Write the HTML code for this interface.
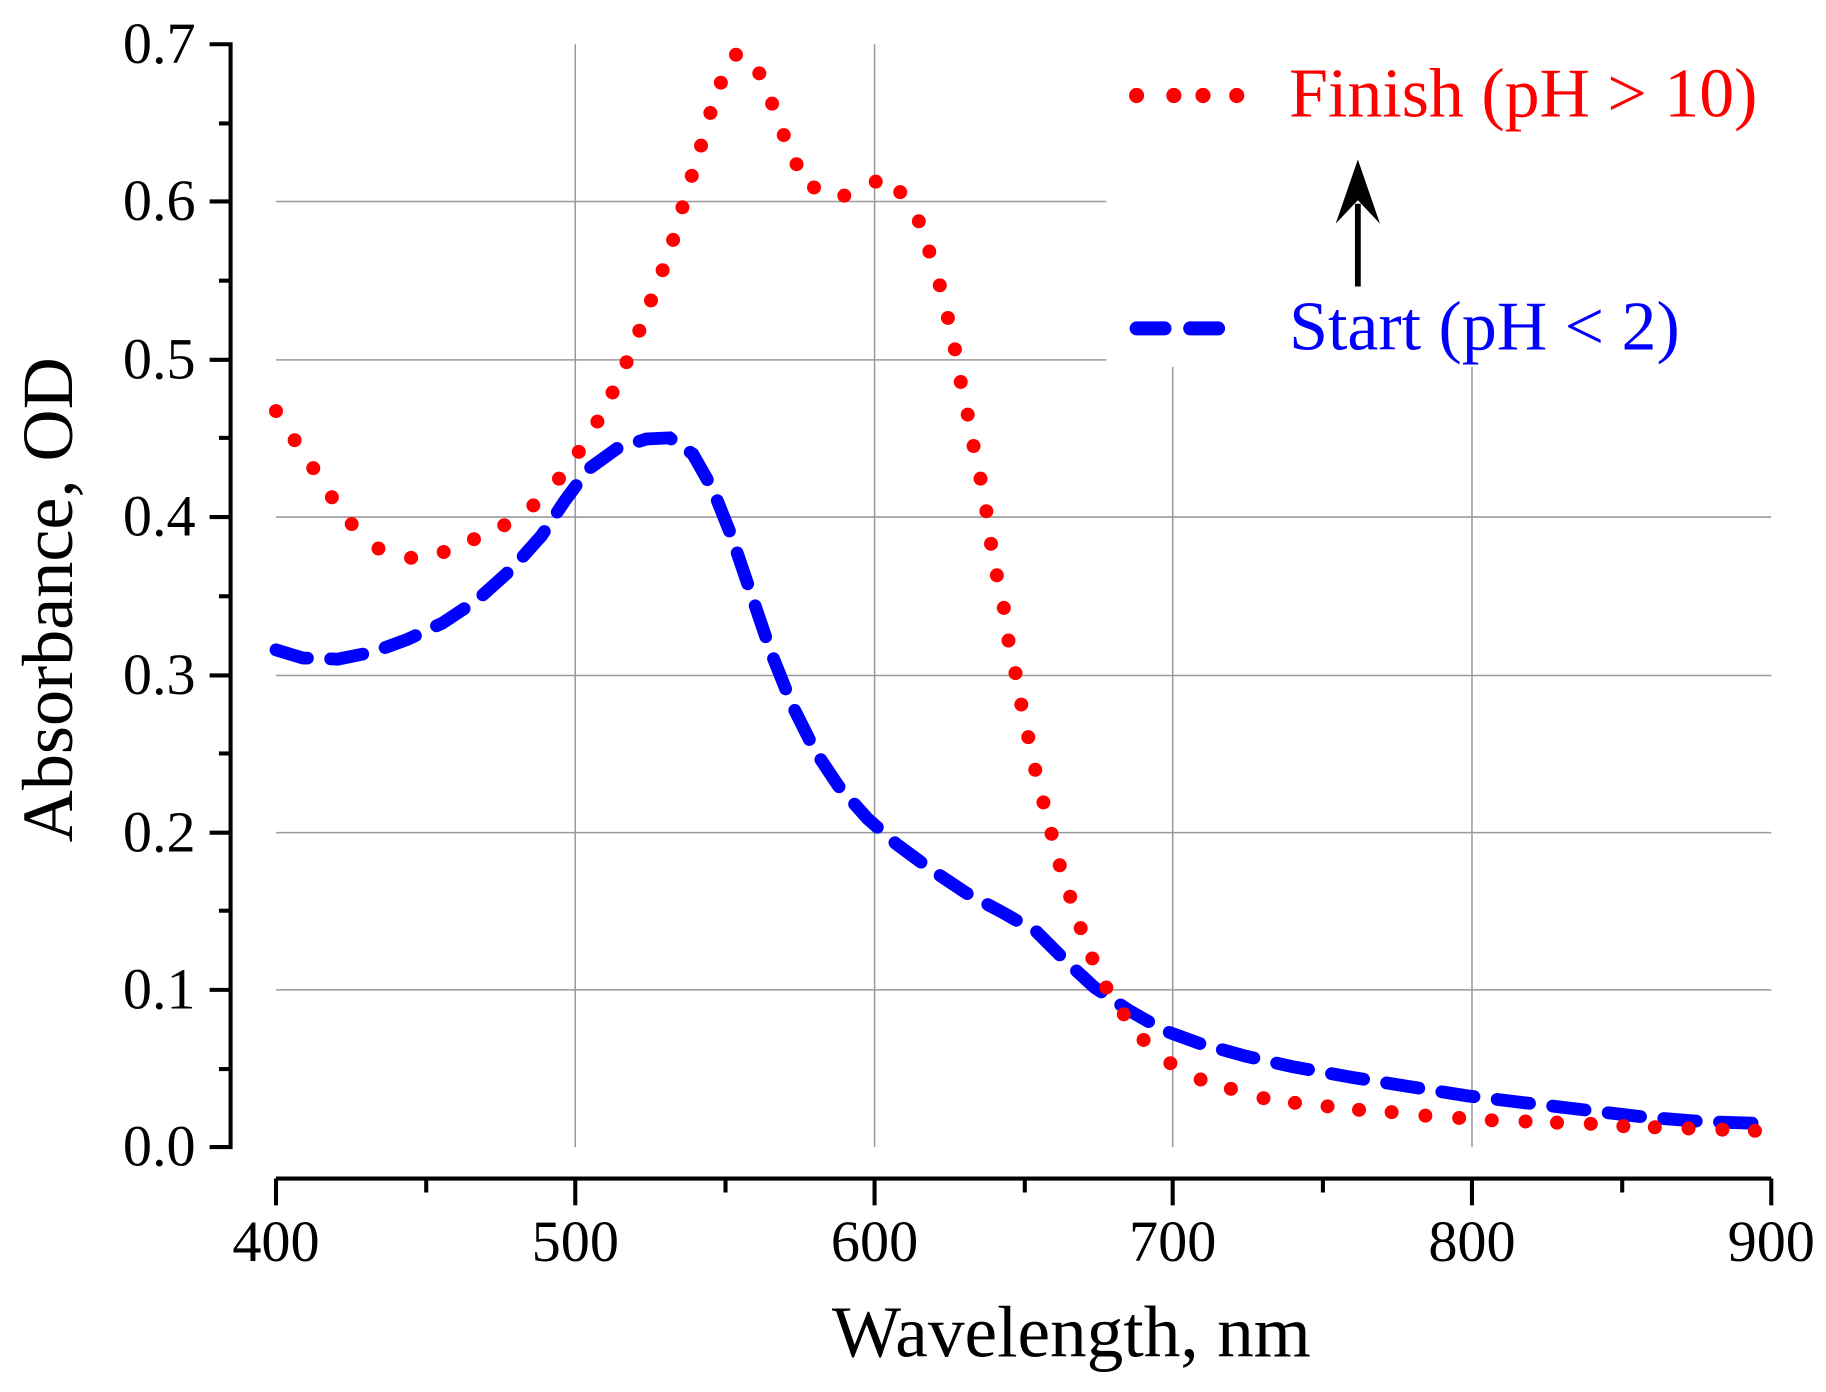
<!DOCTYPE html>
<html><head><meta charset="utf-8"><style>html,body{margin:0;padding:0;background:#fff}svg{display:block}</style></head>
<body>
<svg width="1826" height="1392" viewBox="0 0 1568 1195.3" preserveAspectRatio="none" xmlns="http://www.w3.org/2000/svg" font-family="'Liberation Serif', serif">
<rect width="1568" height="1196" fill="#fff"/>
<g stroke="#999" stroke-width="1.3">
<line x1="237" y1="173" x2="950" y2="173"/>
<line x1="237" y1="309" x2="950" y2="309"/>
<line x1="237" y1="444" x2="1521" y2="444"/>
<line x1="237" y1="580" x2="1521" y2="580"/>
<line x1="237" y1="715" x2="1521" y2="715"/>
<line x1="237" y1="850" x2="1521" y2="850"/>
<line x1="494" y1="38" x2="494" y2="985"/>
<line x1="751" y1="38" x2="751" y2="985"/>
<line x1="1007" y1="315" x2="1007" y2="985"/>
<line x1="1264" y1="315" x2="1264" y2="985"/>
</g>
<g stroke="#000" stroke-width="3.5" fill="none">
<polyline points="180,38 198,38 198,985 180,985"/>
<line x1="237" y1="1012" x2="1521" y2="1012"/>
<line x1="180" y1="173" x2="198" y2="173"/><line x1="180" y1="309" x2="198" y2="309"/>
<line x1="180" y1="444" x2="198" y2="444"/><line x1="180" y1="580" x2="198" y2="580"/>
<line x1="180" y1="715" x2="198" y2="715"/><line x1="180" y1="850" x2="198" y2="850"/>
<line x1="188" y1="106" x2="198" y2="106"/><line x1="188" y1="241" x2="198" y2="241"/>
<line x1="188" y1="376" x2="198" y2="376"/><line x1="188" y1="512" x2="198" y2="512"/>
<line x1="188" y1="647" x2="198" y2="647"/><line x1="188" y1="782" x2="198" y2="782"/>
<line x1="188" y1="918" x2="198" y2="918"/>
<line x1="237" y1="1012" x2="237" y2="1035"/><line x1="494" y1="1012" x2="494" y2="1035"/>
<line x1="751" y1="1012" x2="751" y2="1035"/><line x1="1007" y1="1012" x2="1007" y2="1035"/>
<line x1="1264" y1="1012" x2="1264" y2="1035"/><line x1="1521" y1="1012" x2="1521" y2="1035"/>
<line x1="366" y1="1012" x2="366" y2="1024"/><line x1="623" y1="1012" x2="623" y2="1024"/>
<line x1="880" y1="1012" x2="880" y2="1024"/><line x1="1136" y1="1012" x2="1136" y2="1024"/>
<line x1="1393" y1="1012" x2="1393" y2="1024"/>
</g>
<g font-size="50" text-anchor="end" fill="#000">
<text x="168" y="54">0.7</text><text x="168" y="189">0.6</text><text x="168" y="325">0.5</text>
<text x="168" y="460">0.4</text><text x="168" y="596">0.3</text><text x="168" y="731">0.2</text>
<text x="168" y="866">0.1</text><text x="168" y="1001">0.0</text>
</g>
<g font-size="50" text-anchor="middle" fill="#000">
<text x="237" y="1083">400</text><text x="494" y="1083">500</text><text x="751" y="1083">600</text>
<text x="1007" y="1083">700</text><text x="1264" y="1083">800</text><text x="1521" y="1083">900</text>
</g>
<text x="920" y="1165" font-size="63" text-anchor="middle">Wavelength, nm</text>
<text transform="translate(62,515) rotate(-90)" font-size="62" text-anchor="middle">Absorbance, OD</text>
<polyline fill="none" stroke="#0000ff" stroke-width="11" stroke-linecap="round" stroke-dasharray="28 20" points="237,558 260,565 290,566 320,560 350,549 380,535 410,515 440,488 465,460 485,430 505,403 530,385 555,377 575,376 595,390 612,420 628,460 645,510 662,560 680,605 700,645 720,675 745,703 770,725 800,747 830,767 860,783 890,800 915,825 940,848 970,868 1000,885 1030,896 1070,907 1110,916 1160,925 1210,933 1260,941 1310,947 1360,953 1410,959 1460,963 1521,965"/>
<g fill="#ff0000">
<circle cx="237" cy="353" r="6"/><circle cx="253" cy="378" r="6"/><circle cx="269" cy="402" r="6"/><circle cx="285" cy="427" r="6"/><circle cx="302" cy="450" r="6"/><circle cx="325" cy="471" r="6"/><circle cx="353" cy="479" r="6"/><circle cx="381" cy="474" r="6"/><circle cx="407" cy="463" r="6"/><circle cx="433" cy="451" r="6"/><circle cx="458" cy="434" r="6"/><circle cx="480" cy="411" r="6"/><circle cx="497" cy="388" r="6"/><circle cx="513" cy="362" r="6"/><circle cx="526" cy="337" r="6"/><circle cx="538" cy="311" r="6"/><circle cx="549" cy="284" r="6"/><circle cx="559" cy="258" r="6"/><circle cx="569" cy="232" r="6"/><circle cx="578" cy="206" r="6"/><circle cx="586" cy="178" r="6"/><circle cx="594" cy="151" r="6"/><circle cx="602" cy="125" r="6"/><circle cx="610" cy="97" r="6"/><circle cx="619" cy="71" r="6"/><circle cx="632" cy="47" r="6"/><circle cx="652" cy="63" r="6"/><circle cx="663" cy="89" r="6"/><circle cx="673" cy="116" r="6"/><circle cx="684" cy="141" r="6"/><circle cx="699" cy="161" r="6"/><circle cx="725" cy="168" r="6"/><circle cx="752" cy="156" r="6"/><circle cx="773" cy="165" r="6"/><circle cx="789" cy="190" r="6"/><circle cx="798" cy="216" r="6"/><circle cx="807" cy="245" r="6"/><circle cx="814" cy="273" r="6"/><circle cx="820" cy="300" r="6"/><circle cx="825" cy="328" r="6"/><circle cx="831" cy="356" r="6"/><circle cx="836" cy="383" r="6"/><circle cx="842" cy="411" r="6"/><circle cx="847" cy="439" r="6"/><circle cx="851" cy="467" r="6"/><circle cx="856" cy="494" r="6"/><circle cx="862" cy="522" r="6"/><circle cx="866" cy="550" r="6"/><circle cx="872" cy="578" r="6"/><circle cx="877" cy="605" r="6"/><circle cx="883" cy="633" r="6"/><circle cx="889" cy="661" r="6"/><circle cx="896" cy="689" r="6"/><circle cx="903" cy="716" r="6"/><circle cx="910" cy="743" r="6"/><circle cx="919" cy="770" r="6"/><circle cx="928" cy="797" r="6"/><circle cx="938" cy="823" r="6"/><circle cx="950" cy="848" r="6"/><circle cx="965" cy="871" r="6"/><circle cx="982" cy="893" r="6"/><circle cx="1005" cy="913" r="6"/><circle cx="1031" cy="927" r="6"/><circle cx="1057" cy="935" r="6"/><circle cx="1085" cy="943" r="6"/><circle cx="1112" cy="947" r="6"/><circle cx="1140" cy="950" r="6"/><circle cx="1167" cy="953" r="6"/><circle cx="1195" cy="955" r="6"/><circle cx="1224" cy="958" r="6"/><circle cx="1253" cy="960" r="6"/><circle cx="1281" cy="962" r="6"/><circle cx="1310" cy="963" r="6"/><circle cx="1337" cy="964" r="6"/><circle cx="1366" cy="965" r="6"/><circle cx="1394" cy="967" r="6"/><circle cx="1421" cy="968" r="6"/><circle cx="1450" cy="969" r="6"/><circle cx="1479" cy="970" r="6"/><circle cx="1507" cy="971" r="6"/>
<circle cx="976" cy="82" r="6.5"/><circle cx="1008" cy="82" r="6.5"/><circle cx="1033" cy="82" r="6.5"/><circle cx="1062" cy="82" r="6.5"/>
</g>
<line x1="976" y1="282" x2="1055" y2="282" stroke="#0000ff" stroke-width="12" stroke-linecap="round" stroke-dasharray="24 22"/>
<text x="1107" y="100" font-size="60" fill="#ff0000">Finish (pH &gt; 10)</text>
<text x="1107" y="300" font-size="60" fill="#0000ff">Start (pH &lt; 2)</text>
<line x1="1166" y1="246" x2="1166" y2="175" stroke="#000" stroke-width="5"/>
<polygon points="1166,137 1147,192 1166,172 1185,192" fill="#000"/>
</svg>
</body></html>
